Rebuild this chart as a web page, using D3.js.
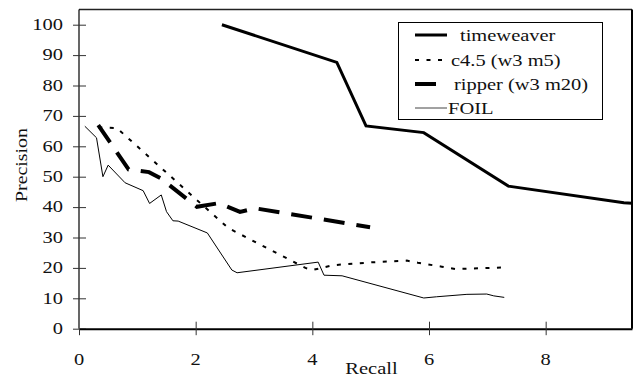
<!DOCTYPE html>
<html>
<head>
<meta charset="utf-8">
<script src="https://cdn.jsdelivr.net/npm/d3@7"></script>
<style>
  body { margin: 0; background: #fff; }
  svg text { font-family: 'Liberation Serif', 'Times New Roman', serif; font-size: 16px; fill: #111; }
</style>
</head>
<body>
<div id="chart"></div>
<script>
// recall / precision pairs
const timeweaver = [[2.45, 100], [4.42, 87.6], [4.92, 66.7], [5.91, 64.5], [7.36, 46.9], [9.34, 41.4], [9.48, 41.3]];
const c45 = [[0.33, 66.2], [0.65, 66.0], [2.08, 41.3], [2.56, 33.1], [3.88, 20.0], [4.0, 19.3], [4.36, 20.9],
  [4.99, 21.8], [5.62, 22.4], [5.81, 21.7], [6.22, 20.4], [6.45, 19.6], [7.34, 20.2]];
const ripper = [[0.33, 67], [0.85, 52.4], [1.2, 51.5], [1.4, 49.5], [2.02, 40.1], [2.4, 41.3], [2.76, 38.4],
  [3.02, 39.6], [4.99, 33.4]];
const foil = [[0.1, 66.6], [0.3, 62.8], [0.41, 50], [0.5, 53.8], [0.79, 48], [1.1, 45.4], [1.21, 41.2],
  [1.41, 44], [1.5, 38.5], [1.61, 35.5], [1.7, 35.4], [2.2, 31.5], [2.62, 19.3], [2.71, 18.4], [4.1, 21.9],
  [4.2, 17.6], [4.51, 17.4], [5.91, 10.1], [6.13, 10.5], [6.65, 11.3], [6.99, 11.4], [7.11, 10.8], [7.29, 10.3]];

const seriesNames = ['timeweaver', 'c4.5 (w3 m5)', 'ripper (w3 m20)', 'FOIL'];
const xTicks = [0, 2, 4, 6, 8];
const yTicks = [0, 10, 20, 30, 40, 50, 60, 70, 80, 90, 100];

const width = 633, height = 377;
const margin = {top: 9.5, right: 1, bottom: 48.3, left: 79};
const stretch = 1.28; // the original type is set wide

const styles = [
  {width: 3, dash: null},
  {width: 2, dash: '4,7.5'},
  {width: 4, dash: '21,12'},
  {width: 1, dash: null}
];

const svg = d3.select('#chart').append('svg')
  .attr('width', width)
  .attr('height', height);

const x = d3.scaleLinear()
  .domain([0, 9.48])
  .range([margin.left, width - margin.right]);

const y = d3.scaleLinear()
  .domain([0, 105])
  .range([height - margin.bottom, margin.top]);

// frame: top and right border
svg.append('line')
  .attr('x1', x(0)).attr('x2', x(9.48))
  .attr('y1', y(105)).attr('y2', y(105))
  .attr('stroke', '#222').attr('stroke-width', 1.5);
svg.append('line')
  .attr('x1', x(9.48)).attr('x2', x(9.48))
  .attr('y1', y(105)).attr('y2', y(0))
  .attr('stroke', '#000').attr('stroke-width', 2);

// y axis
const yAxis = svg.append('g')
  .attr('transform', `translate(${x(0)},0)`)
  .call(d3.axisLeft(y).tickValues(yTicks).tickSize(6).tickSizeOuter(0).tickFormat(''));
yAxis.select('.domain').attr('stroke', '#000').attr('stroke-width', 1.2)
  .attr('d', `M0,${y(105)}V${y(0)}`);
yAxis.selectAll('.tick line').attr('x1', 7).attr('x2', -6).attr('stroke', '#333');

svg.append('g').selectAll('text')
  .data(yTicks)
  .join('text')
  .attr('transform', d => `translate(${x(0) - 16},${y(d)}) scale(${stretch},1)`)
  .attr('text-anchor', 'end')
  .attr('dy', '0.33em')
  .text(d => d);

// x axis
const xAxis = svg.append('g')
  .attr('transform', `translate(0,${y(0)})`)
  .call(d3.axisBottom(x).tickValues(xTicks).tickSize(6).tickSizeOuter(0).tickFormat(''));
xAxis.select('.domain').attr('stroke', '#000').attr('stroke-width', 2);
xAxis.selectAll('.tick line').attr('y1', d => d === 0 ? 0 : -7).attr('y2', 6.5).attr('stroke', '#333');

svg.append('g').selectAll('text')
  .data(xTicks)
  .join('text')
  .attr('transform', d => `translate(${x(d)},${y(0) + 36}) scale(${stretch},1)`)
  .attr('text-anchor', 'middle')
  .text(d => d);

// axis titles
svg.append('text')
  .attr('transform', `translate(371.5,374) scale(${stretch},1)`)
  .attr('text-anchor', 'middle')
  .text('Recall');

svg.append('text')
  .attr('transform', `translate(27,165) rotate(-90) scale(1.24,1)`)
  .attr('text-anchor', 'middle')
  .text('Precision');

// lines
const line = d3.line()
  .x(d => x(d[0]))
  .y(d => y(d[1]));

const allSeries = [timeweaver, c45, ripper, foil];

svg.append('g').selectAll('path')
  .data(allSeries)
  .join('path')
  .attr('d', line)
  .attr('fill', 'none')
  .attr('stroke', '#000')
  .attr('stroke-width', (d, i) => styles[i].width)
  .attr('stroke-dasharray', (d, i) => styles[i].dash)
  .attr('stroke-linejoin', 'miter');

// legend
const legendRows = [35, 60, 84, 108];
const legendTextX = [460, 451, 454, 448];

const legend = svg.append('g');
legend.append('rect')
  .attr('x', 398.5).attr('y', 22.5)
  .attr('width', 204).attr('height', 97)
  .attr('fill', '#fff')
  .attr('stroke', '#000')
  .attr('stroke-width', 1);

seriesNames.forEach((name, i) => {
  legend.append('line')
    .attr('x1', 415).attr('x2', 447)
    .attr('y1', legendRows[i]).attr('y2', legendRows[i])
    .attr('stroke', i === 3 ? '#444' : '#000')
    .attr('stroke-width', styles[i].width)
    .attr('stroke-dasharray', styles[i].dash);
  legend.append('text')
    .attr('transform', `translate(${legendTextX[i]},${legendRows[i] + 5.5}) scale(${stretch},1)`)
    .text(name);
});
</script>
</body>
</html>
